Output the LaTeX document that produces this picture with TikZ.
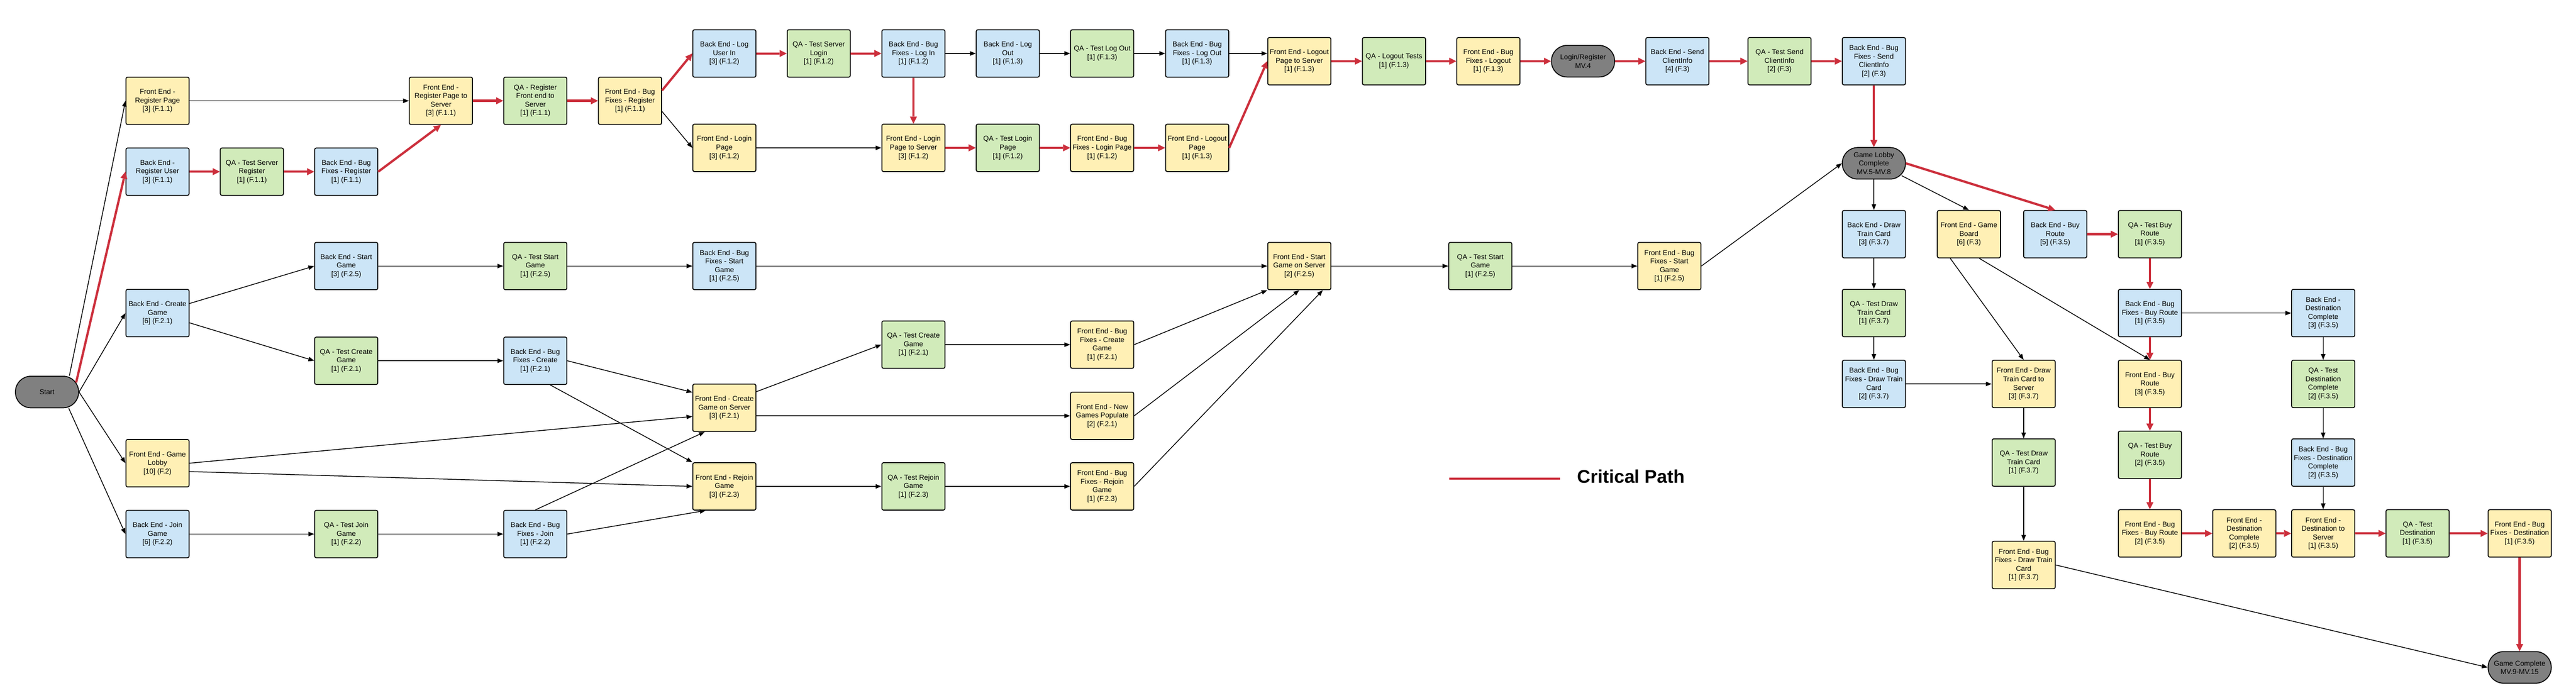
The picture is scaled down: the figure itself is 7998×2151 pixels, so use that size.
\documentclass[tikz,border=0pt]{standalone}
\usepackage{fontspec}
\setmainfont{Liberation Sans}
\usetikzlibrary{arrows.meta}
\definecolor{feY}{HTML}{FFF0B5}
\definecolor{beB}{HTML}{CCE5F7}
\definecolor{qaG}{HTML}{D1EBBA}
\definecolor{msG}{HTML}{808080}
\definecolor{critred}{HTML}{CC2F3C}
\newcommand{\boxfont}{\fontsize{5.5pt}{6.6pt}\selectfont}
\newcommand{\nl}{\\{}}
\tikzset{
  box/.style={draw=black, line width=0.7pt, rounded corners=1.25pt, minimum width=49pt, minimum height=36.75pt, inner sep=0pt, align=center, font=\boxfont},
  fe/.style={box, fill=feY},
  be/.style={box, fill=beB},
  qa/.style={box, fill=qaG},
  ms/.style={draw=black, line width=0.7pt, fill=msG, rounded corners=12pt, minimum width=49pt, minimum height=24.5pt, inner sep=0pt, align=center, font=\boxfont},
  arr/.style={draw=black, line width=0.6pt, -{Triangle[length=4.5pt,width=3.4pt]}},
  crit/.style={draw=critred, line width=1.75pt, -{Triangle[length=5.5pt,width=5.5pt,line width=0pt]}}
}
\begin{document}
\begin{tikzpicture}[x=0.25pt,y=-0.25pt]
\useasboundingbox[fill=white] (0,0) rectangle (7998,2151);
% ---------- nodes ----------
\node[ms] (start) at (146,1217) {Start};
\node[fe] (regpage) at (489,313) {Front End -\\Register Page\nl[3] (F.1.1)};
\node[be] (reguser) at (489,533) {Back End -\\Register User\nl[3] (F.1.1)};
\node[be] (creategame) at (489,972) {Back End - Create\\Game\nl[6] (F.2.1)};
\node[fe] (lobby) at (489,1438) {Front End - Game\\Lobby\nl[10] (F.2)};
\node[be] (joingame) at (489,1658) {Back End - Join\\Game\nl[6] (F.2.2)};
\node[qa] (qaservreg) at (782,533) {QA - Test Server\\Register\nl[1] (F.1.1)};
\node[be] (bfreg) at (1075,533) {Back End - Bug\\Fixes - Register\nl[1] (F.1.1)};
\node[be] (startgame) at (1075,826) {Back End - Start\\Game\nl[3] (F.2.5)};
\node[qa] (qacreate) at (1075,1120) {QA - Test Create\\Game\nl[1] (F.2.1)};
\node[qa] (qajoin) at (1075,1658) {QA - Test Join\\Game\nl[1] (F.2.2)};
\node[fe] (regsrv) at (1369,313) {Front End -\\Register Page to\\Server\nl[3] (F.1.1)};
\node[qa] (qaregfe) at (1662,313) {QA - Register\\Front end to\\Server\nl[1] (F.1.1)};
\node[qa] (qastart) at (1662,826) {QA - Test Start\\Game\nl[1] (F.2.5)};
\node[be] (bfcreate) at (1662,1120) {Back End - Bug\\Fixes - Create\nl[1] (F.2.1)};
\node[be] (bfjoin) at (1662,1658) {Back End - Bug\\Fixes - Join\nl[1] (F.2.2)};
\node[fe] (febfreg) at (1956,313) {Front End - Bug\\Fixes - Register\nl[1] (F.1.1)};
\node[be] (login) at (2249,166) {Back End - Log\\User In\nl[3] (F.1.2)};
\node[fe] (loginpage) at (2249,459) {Front End - Login\\Page\nl[3] (F.1.2)};
\node[be] (bfstart) at (2249,826) {Back End - Bug\\Fixes - Start\\Game\nl[1] (F.2.5)};
\node[fe] (createsrv) at (2249,1266) {Front End - Create\\Game on Server\nl[3] (F.2.1)};
\node[fe] (rejoin) at (2249,1510) {Front End - Rejoin\\Game\nl[3] (F.2.3)};
\node[qa] (qalogin) at (2542,166) {QA - Test Server\\Login\nl[1] (F.1.2)};
\node[be] (bflogin) at (2836,166) {Back End - Bug\\Fixes - Log In\nl[1] (F.1.2)};
\node[fe] (loginsrv) at (2836,459) {Front End - Login\\Page to Server\nl[3] (F.1.2)};
\node[qa] (qacreate2) at (2836,1070) {QA - Test Create\\Game\nl[1] (F.2.1)};
\node[qa] (qarejoin) at (2836,1510) {QA - Test Rejoin\\Game\nl[1] (F.2.3)};
\node[be] (logout) at (3129,166) {Back End - Log\\Out\nl[1] (F.1.3)};
\node[qa] (qaloginpage) at (3129,459) {QA - Test Login\\Page\nl[1] (F.1.2)};
\node[qa] (qalogout) at (3422,166) {QA - Test Log Out\nl[1] (F.1.3)};
\node[fe] (febflogin) at (3422,459) {Front End - Bug\\Fixes - Login Page\nl[1] (F.1.2)};
\node[fe] (febfcreate) at (3422,1070) {Front End - Bug\\Fixes - Create\\Game\nl[1] (F.2.1)};
\node[fe] (newgames) at (3422,1291) {Front End - New\\Games Populate\nl[2] (F.2.1)};
\node[fe] (febfrejoin) at (3422,1510) {Front End - Bug\\Fixes - Rejoin\\Game\nl[1] (F.2.3)};
\node[be] (bflogout) at (3717,166) {Back End - Bug\\Fixes - Log Out\nl[1] (F.1.3)};
\node[fe] (logoutpage) at (3717,459) {Front End - Logout\\Page\nl[1] (F.1.3)};
\node[fe] (logoutsrv) at (4034,190) {Front End - Logout\\Page to Server\nl[1] (F.1.3)};
\node[fe] (startsrv) at (4034,826) {Front End - Start\\Game on Server\nl[2] (F.2.5)};
\node[qa] (qalogouttests) at (4328,190) {QA - Logout Tests\nl[1] (F.1.3)};
\node[qa] (qastart2) at (4596,826) {QA - Test Start\\Game\nl[1] (F.2.5)};
\node[fe] (febflogout) at (4621,190) {Front End - Bug\\Fixes - Logout\nl[1] (F.1.3)};
\node[ms] (mvfour) at (4915,190) {Login/Register\\MV.4};
\node[fe] (febfstart) at (5183,826) {Front End - Bug\\Fixes - Start\\Game\nl[1] (F.2.5)};
\node[be] (sendci) at (5208,190) {Back End - Send\\ClientInfo\nl[4] (F.3)};
\node[qa] (qasendci) at (5525,190) {QA - Test Send\\ClientInfo\nl[2] (F.3)};
\node[be] (bfsendci) at (5818,190) {Back End - Bug\\Fixes - Send\\ClientInfo\nl[2] (F.3)};
\node[ms] (lobbydone) at (5818,507) {Game Lobby\\Complete\\MV.5-MV.8};
\node[be] (drawcard) at (5818,727) {Back End - Draw\\Train Card\nl[3] (F.3.7)};
\node[qa] (qadraw) at (5818,972) {QA - Test Draw\\Train Card\nl[1] (F.3.7)};
\node[be] (bfdraw) at (5818,1192) {Back End - Bug\\Fixes - Draw Train\\Card\nl[2] (F.3.7)};
\node[fe] (gameboard) at (6113,727) {Front End - Game\\Board\nl[6] (F.3)};
\node[fe] (drawsrv) at (6283,1192) {Front End - Draw\\Train Card to\\Server\nl[3] (F.3.7)};
\node[qa] (qadraw2) at (6283,1436) {QA - Test Draw\\Train Card\nl[1] (F.3.7)};
\node[fe] (febfdraw) at (6283,1754) {Front End - Bug\\Fixes - Draw Train\\Card\nl[1] (F.3.7)};
\node[be] (buyroute) at (6381,727) {Back End - Buy\\Route\nl[5] (F.3.5)};
\node[qa] (qabuy) at (6675,727) {QA - Test Buy\\Route\nl[1] (F.3.5)};
\node[be] (bfbuy) at (6675,972) {Back End - Bug\\Fixes - Buy Route\nl[1] (F.3.5)};
\node[fe] (febuy) at (6675,1192) {Front End - Buy\\Route\nl[3] (F.3.5)};
\node[qa] (qabuy2) at (6675,1412) {QA - Test Buy\\Route\nl[2] (F.3.5)};
\node[fe] (febfbuy) at (6675,1656) {Front End - Bug\\Fixes - Buy Route\nl[2] (F.3.5)};
\node[be] (destdone) at (7213,972) {Back End -\\Destination\\Complete\nl[3] (F.3.5)};
\node[qa] (qadestdone) at (7213,1192) {QA - Test\\Destination\\Complete\nl[2] (F.3.5)};
\node[be] (bfdestdone) at (7213,1436) {Back End - Bug\\Fixes - Destination\\Complete\nl[2] (F.3.5)};
\node[fe] (fedestdone) at (6968,1656) {Front End -\\Destination\\Complete\nl[2] (F.3.5)};
\node[fe] (destsrv) at (7213,1656) {Front End -\\Destination to\\Server\nl[1] (F.3.5)};
\node[qa] (qadest) at (7506,1656) {QA - Test\\Destination\nl[1] (F.3.5)};
\node[fe] (febfdest) at (7823,1656) {Front End - Bug\\Fixes - Destination\nl[1] (F.3.5)};
\node[ms] (gamedone) at (7823,2072) {Game Complete\\MV.9-MV.15};
% ---------- legend ----------
\coordinate (legA) at (4499,1486);
\coordinate (legB) at (4844,1486);
\draw[critred, line width=1.75pt] (legA) -- (legB);
\node[anchor=base west, inner sep=0pt, font=\fontsize{14.25pt}{17pt}\selectfont\bfseries] (legtext) at (4897,1499) {Critical Path};
% ---------- black connectors ----------
\path[arr] ([xshift=-7.5pt]start.north east) -- (regpage.west);
\path[arr] (start.east) -- (creategame.west);
\path[arr] (start.east) -- (lobby.west);
\path[arr] ([xshift=-8pt]start.south east) -- (joingame.west);
\path[arr] (regpage.east) -- (regsrv.west);
\path[arr] (creategame) -- (startgame.west);
\path[arr] (creategame) -- (qacreate.west);
\path[arr] (startgame) -- (qastart);
\path[arr] (qastart) -- (bfstart);
\path[arr] (bfstart) -- (startsrv);
\path[arr] (qacreate) -- (bfcreate);
\path[arr] (joingame) -- (qajoin);
\path[arr] (qajoin) -- (bfjoin);
\path[arr] ([yshift=-8.25pt]febfreg.east) -- (loginpage.west);
\path[arr] (loginpage) -- (loginsrv);
\path[arr] (bflogin) -- (logout);
\path[arr] (logout) -- (qalogout);
\path[arr] (qalogout) -- (bflogout);
\path[arr] (bflogout.east) -- (bflogout.east -| logoutsrv.west);
\path[arr] (bfcreate.east) -- ([yshift=12pt]createsrv.west);
\path[arr] ([xshift=11.5pt]bfcreate.south) -- (rejoin.north west);
\path[arr] (lobby.east) -- ([yshift=-6.75pt]createsrv.west);
\path[arr] ([yshift=-6.5pt]lobby.east) -- (rejoin.west);
\path[arr] (bfjoin.north) -- ([xshift=-15.25pt]createsrv.south);
\path[arr] (bfjoin.east) -- ([xshift=-14.5pt]rejoin.south);
\path[arr] ([yshift=12.5pt]createsrv.east) -- (qacreate2.west);
\path[arr] (createsrv.east |- newgames.west) -- (newgames.west);
\path[arr] (rejoin) -- (qarejoin);
\path[arr] (qarejoin) -- (febfrejoin);
\path[arr] (qacreate2) -- (febfcreate);
\path[arr] (febfcreate.east) -- (startsrv.south west);
\path[arr] (newgames.east) -- (startsrv.south);
\path[arr] (febfrejoin.east) -- ([xshift=18.25pt]startsrv.south);
\path[arr] (startsrv) -- (qastart2);
\path[arr] (qastart2) -- (febfstart);
\path[arr] (febfstart.east) -- (lobbydone.west);
\path[arr] (lobbydone.south) -- (drawcard.north);
\path[arr] ([xshift=-3.25pt,yshift=3pt]lobbydone.south east) -- (gameboard.north);
\path[arr] (drawcard) -- (qadraw);
\path[arr] (qadraw) -- (bfdraw);
\path[arr] (bfdraw) -- (drawsrv);
\path[arr] ([xshift=-14.5pt]gameboard.south) -- (drawsrv.north);
\path[arr] ([xshift=8pt]gameboard.south) -- (febuy.north);
\path[arr] (drawsrv) -- (qadraw2);
\path[arr] (qadraw2) -- (febfdraw);
\path[arr] (febfdraw.east) -- (gamedone.west);
\path[arr] (bfbuy) -- (destdone);
\path[arr] (destdone) -- (qadestdone);
\path[arr] (qadestdone) -- (bfdestdone);
\path[arr] (bfdestdone) -- (destsrv);
% ---------- critical path ----------
\path[crit] ([xshift=-2.25pt,yshift=-5.25pt]start.north east) -- (reguser.west);
\path[crit] (reguser) -- (qaservreg);
\path[crit] (qaservreg) -- (bfreg);
\path[crit] (bfreg.east) -- (regsrv.south);
\path[crit] (regsrv) -- (qaregfe);
\path[crit] (qaregfe) -- (febfreg);
\path[crit] ([yshift=8pt]febfreg.east) -- (login.west);
\path[crit] (login) -- (qalogin);
\path[crit] (qalogin) -- (bflogin);
\path[crit] (bflogin) -- (loginsrv);
\path[crit] (loginsrv) -- (qaloginpage);
\path[crit] (qaloginpage) -- (febflogin);
\path[crit] (febflogin) -- (logoutpage);
\path[crit] (logoutpage.east) -- (logoutsrv.west);
\path[crit] (logoutsrv) -- (qalogouttests);
\path[crit] (qalogouttests) -- (febflogout);
\path[crit] (febflogout) -- (mvfour);
\path[crit] (mvfour) -- (sendci);
\path[crit] (sendci) -- (qasendci);
\path[crit] (qasendci) -- (bfsendci);
\path[crit] (bfsendci) -- (lobbydone);
\path[crit] (lobbydone.east) -- (buyroute.north);
\path[crit] (buyroute) -- (qabuy);
\path[crit] (qabuy) -- (bfbuy);
\path[crit] (bfbuy) -- (febuy);
\path[crit] (febuy) -- (qabuy2);
\path[crit] (qabuy2) -- (febfbuy);
\path[crit] (febfbuy) -- (fedestdone);
\path[crit] (fedestdone) -- (destsrv);
\path[crit] (destsrv) -- (qadest);
\path[crit] (qadest) -- (febfdest);
\path[crit] (febfdest) -- (gamedone);
\end{tikzpicture}
\end{document}
